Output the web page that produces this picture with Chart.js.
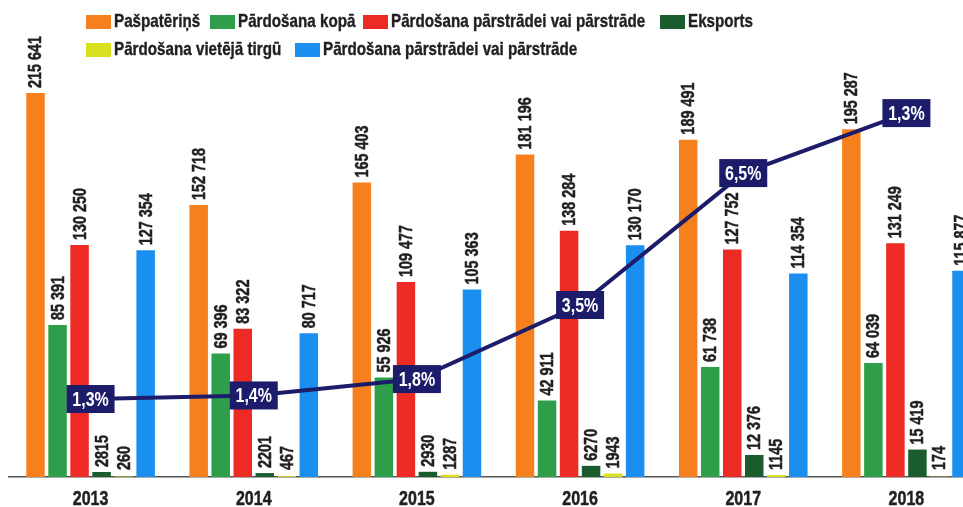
<!DOCTYPE html>
<html>
<head>
<meta charset="utf-8">
<script src="https://cdn.jsdelivr.net/npm/chart.js@4.4.0/dist/chart.umd.min.js"></script>
<style>
html, body { margin: 0; padding: 0; background: #fff; overflow: hidden; width: 963px; height: 507px; }
#myChart { position: absolute; left: 0; top: 0; }
#legend { position: absolute; left: 0; top: 0; width: 963px; height: 68px; z-index: 2;
  font-family: "Liberation Sans", Arial, sans-serif;
  font-weight: bold; font-size: 19px; color: #231f20; -webkit-text-stroke: 0.4px #231f20; }
.box { position: absolute; width: 25px; height: 14px; }
.txt { position: absolute; white-space: nowrap; line-height: 20px; transform: scaleX(0.8); transform-origin: 0 50%; }
</style>
</head>
<body>
<div id="legend"></div>
<canvas id="myChart" width="1000" height="507"></canvas>
<script>
var years       = ["2013", "2014", "2015", "2016", "2017", "2018"];
var paspaterins = [215641, 152718, 165403, 181196, 189491, 195287];
var pardKopa    = [85391, 69396, 55926, 42911, 61738, 64039];
var pardParstr  = [130250, 83322, 109477, 138284, 127752, 131249];
var eksports    = [2815, 2201, 2930, 6270, 12376, 15419];
var vietejaTirgu = [260, 467, 1287, 1943, 1145, 174];
var pardParstr2 = [127354, 80717, 105363, 130170, 114354, 115877];
// line (in the bar axis units) and the labels in its boxes
var trendLevels = [43800, 45800, 55000, 96600, 170700, 204400];
var shareLabels = ["1,3%", "1,4%", "1,8%", "3,5%", "6,5%", "1,3%"];

var seriesNames  = ["Pašpatēriņš", "Pārdošana kopā", "Pārdošana pārstrādei vai pārstrāde",
                    "Eksports", "Pārdošana vietējā tirgū", "Pārdošana pārstrādei vai pārstrāde"];
var seriesData   = [paspaterins, pardKopa, pardParstr, eksports, vietejaTirgu, pardParstr2];
var seriesColors = ["#f7801e", "#2f9e4a", "#ee2a24", "#1a5c2e", "#d9e021", "#1a8ff0"];

var fontFam = '"Liberation Sans", Arial, sans-serif';
var squeeze = 0.8; // no condensed face installed, so squeeze the text by hand
var navy = "#1d1c6b";
var textCol = "#231f20";

// legend (html, placed like the print)
var legendPos = [[86, 15], [210, 15], [363, 15], [660, 15], [86, 43], [295, 43]];
var element_legend = document.getElementById("legend");
for (let i = 0; i < seriesNames.length; i++) {
    let box = document.createElement("span");
    box.className = "box";
    box.style.left = legendPos[i][0] + "px";
    box.style.top = legendPos[i][1] + "px";
    box.style.background = seriesColors[i];
    element_legend.appendChild(box);
    let t = document.createElement("span");
    t.className = "txt";
    t.style.left = (legendPos[i][0] + 28) + "px";
    t.style.top = (legendPos[i][1] - 4) + "px";
    t.innerText = seriesNames[i];
    element_legend.appendChild(t);
}

function fmt(v) {
    var s = String(v);
    if (v >= 10000) s = s.slice(0, s.length - 3) + " " + s.slice(s.length - 3);
    return s;
}

// squeezed + slightly heavier text
function squeezedText(c, str, x, y, heavy) {
    c.save();
    c.translate(x, y);
    c.scale(squeeze, 1);
    c.fillText(str, 0, 0);
    if (heavy) {
        c.strokeStyle = c.fillStyle;
        c.lineWidth = 0.5;
        c.strokeText(str, 0, 0);
    }
    c.restore();
}

var labelPlugin = {
    id: "labelPlugin",
    afterDatasetsDraw: function(chart) {
        var c = chart.ctx;
        var bottom = chart.chartArea.bottom;
        var xs = chart.scales.x;
        c.save();
        // value labels, turned up
        c.font = "bold 18px " + fontFam;
        c.fillStyle = textCol;
        c.textAlign = "left";
        c.textBaseline = "middle";
        for (let i = 0; i < seriesData.length; i++) {
            let meta = chart.getDatasetMeta(i);
            meta.data.forEach(function(bar, j) {
                let y = Math.min(bar.y, bottom - 2) - 5;
                c.save();
                c.translate(bar.x, y);
                c.rotate(-Math.PI / 2);
                squeezedText(c, fmt(seriesData[i][j]), 0, 1, true);
                c.restore();
            });
        }
        // years under the axis
        c.font = "bold 20px " + fontFam;
        c.textAlign = "center";
        for (let j = 0; j < years.length; j++) {
            squeezedText(c, years[j], xs.getPixelForValue(j), bottom + 22, true);
        }
        // percent boxes on the line
        var lm = chart.getDatasetMeta(seriesData.length);
        c.font = "bold 20px " + fontFam;
        lm.data.forEach(function(pt, j) {
            c.fillStyle = navy;
            c.fillRect(pt.x - 24, pt.y - 14, 48, 28);
            c.fillStyle = "#fff";
            squeezedText(c, shareLabels[j], pt.x, pt.y + 1, false);
        });
        c.restore();
    }
};

var datasets = [];
for (let i = 0; i < seriesData.length; i++) {
    datasets.push({
        label: seriesNames[i],
        data: seriesData[i],
        backgroundColor: seriesColors[i],
        borderWidth: 0,
        categoryPercentage: 0.81,
        barPercentage: 0.84,
        order: 2
    });
}
datasets.push({
    type: "line",
    label: "share",
    data: trendLevels,
    borderColor: navy,
    borderWidth: 4,
    pointRadius: 0,
    tension: 0,
    fill: false,
    order: 1
});

var chart = new Chart(document.getElementById("myChart"), {
    type: "bar",
    data: { labels: years, datasets: datasets },
    options: {
        responsive: false,
        animation: false,
        layout: { padding: { left: 9, right: 12, top: 70, bottom: 30 } },
        plugins: { legend: { display: false }, tooltip: { enabled: false } },
        scales: {
            x: {
                grid: { display: false, drawTicks: false },
                border: { display: true, color: "#555", width: 1.5 },
                ticks: { display: false }
            },
            y: { display: false, min: 0, max: 228600 }
        }
    },
    plugins: [labelPlugin]
});
</script>
</body>
</html>
